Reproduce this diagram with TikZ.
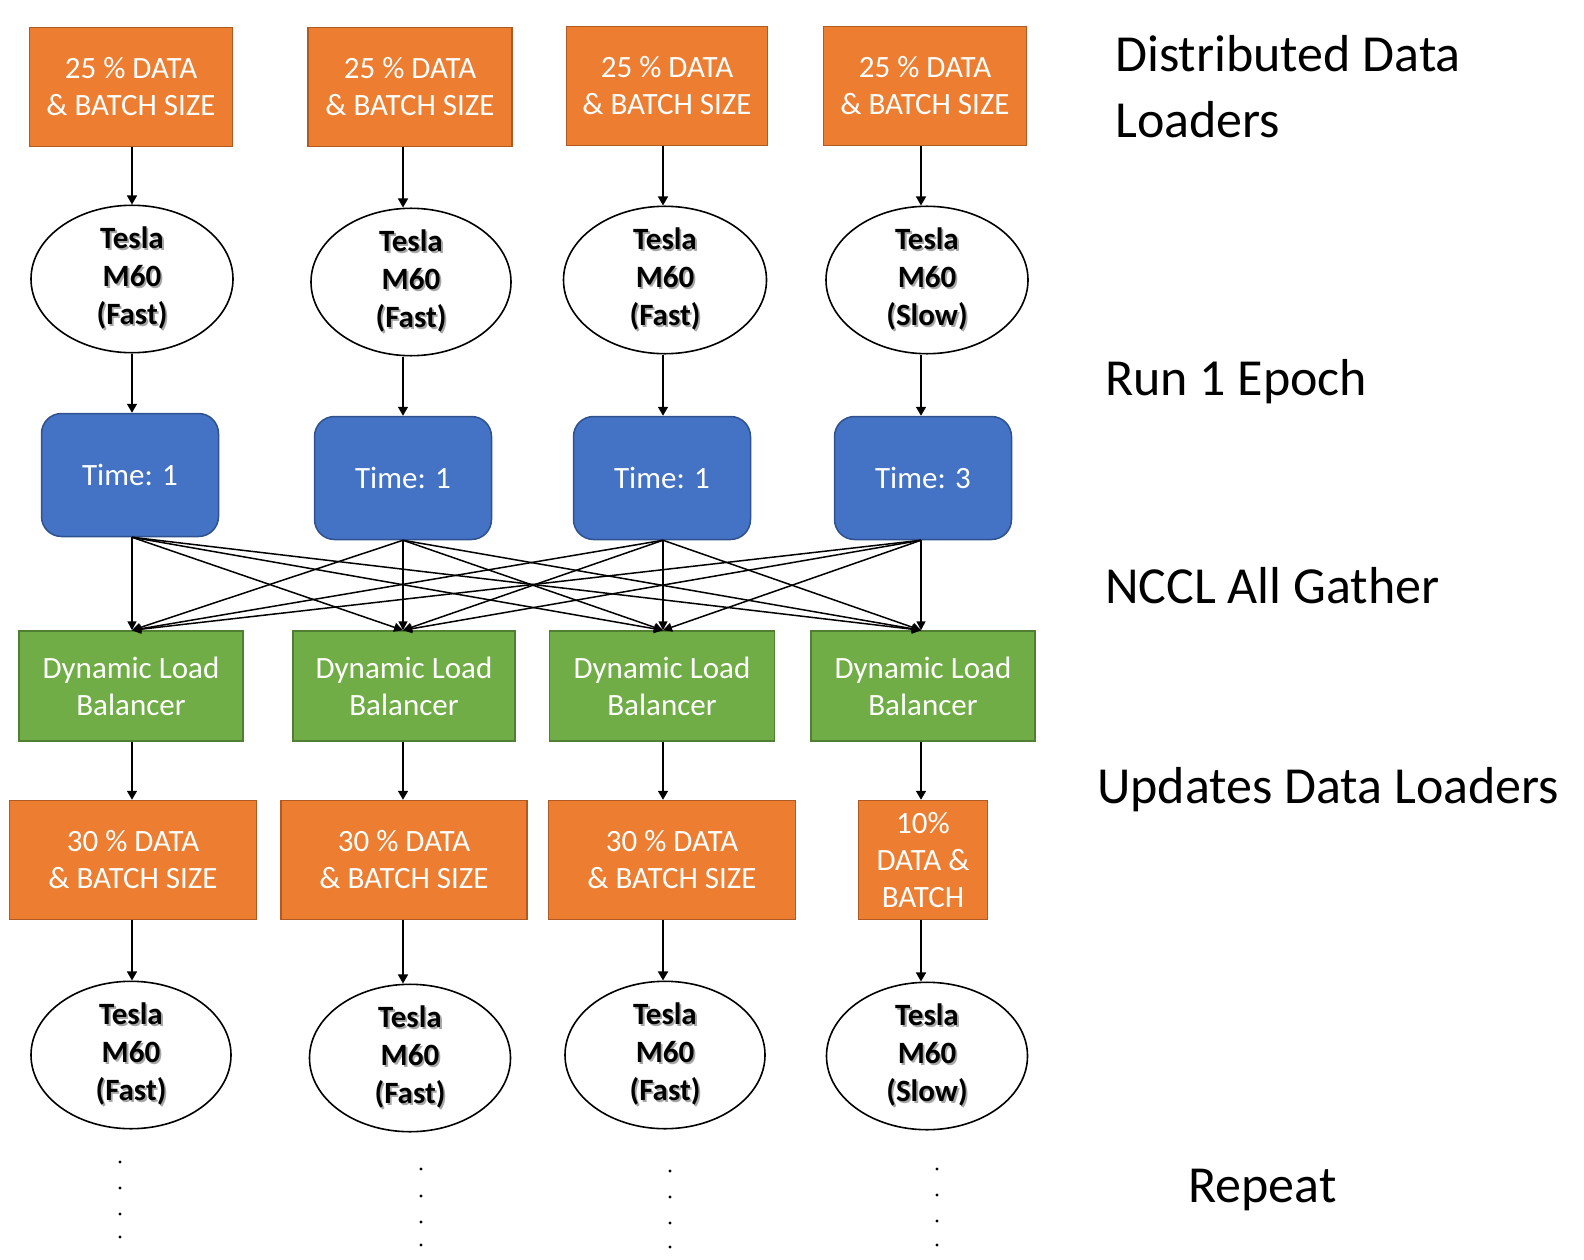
\documentclass[tikz,border=0pt]{standalone}
\usepackage{fontspec}
\setmainfont{Carlito}
\usetikzlibrary{shapes.geometric,arrows.meta}
\definecolor{orf}{HTML}{ED7D31}
\definecolor{ord}{HTML}{AE5A21}
\definecolor{blf}{HTML}{4472C4}
\definecolor{bld}{HTML}{2F528F}
\definecolor{grf}{HTML}{70AD47}
\definecolor{grd}{HTML}{507E32}
\newcommand\shd[1]{\leavevmode\rlap{\hspace{1.8pt}\raisebox{-1.8pt}{\textcolor{black!35}{#1}}}#1}
\begin{document}
\begin{tikzpicture}[x=1pt,y=-1pt,
  boxtext/.style={font=\fontsize{31}{37}\selectfont, text=white, align=center, inner sep=0pt},
  databox/.style={boxtext, rectangle, draw=ord, fill=orf, line width=1.5pt, minimum height=119pt},
  gpu/.style={ellipse, draw=black, fill=white, line width=1.6pt, minimum width=202pt, minimum height=145pt, inner sep=0pt, align=center, font=\fontsize{31}{38}\selectfont\bfseries},
  timebox/.style={boxtext, rectangle, rounded corners=20pt, draw=bld, fill=blf, line width=1.5pt, minimum width=177pt, minimum height=123pt},
  lbbox/.style={boxtext, rectangle, draw=grd, fill=grf, line width=1.5pt, minimum height=110pt},
  arr/.style={draw=black, line width=1.6pt, -{Triangle[length=9pt,width=10pt]}},
  gather/.style={draw=black, line width=1.5pt, -{Triangle[length=9pt,width=9pt]}},
  sidelabel/.style={font=\fontsize{52}{66}\selectfont, anchor=base west, align=left, inner sep=0pt}
]
\useasboundingbox (0,0) rectangle (1584,1260);

% column axes
\coordinate (c1) at (132,0);
\coordinate (c2) at (403,0);
\coordinate (c3) at (663,0);
\coordinate (c4) at (921,0);

% row 1: data loaders
\node[databox, minimum width=203pt] (a1) at (131,87) {25 \% DATA\\\& BATCH SIZE};
\node[databox, minimum width=204pt] (a2) at (410,87) {25 \% DATA\\\& BATCH SIZE};
\node[databox, minimum width=201pt] (a3) at (667,86) {25 \% DATA\\\& BATCH SIZE};
\node[databox, minimum width=203pt] (a4) at (925,86) {25 \% DATA\\\& BATCH SIZE};

% row 2: GPUs
\node[gpu] (e1) at (132,279) {\shd{Tesla}\\\shd{M60}\\\shd{(Fast)}};
\node[gpu, minimum width=200pt] (e2) at (411,282) {\shd{Tesla}\\\shd{M60}\\\shd{(Fast)}};
\node[gpu, minimum width=203pt] (e3) at (665,280) {\shd{Tesla}\\\shd{M60}\\\shd{(Fast)}};
\node[gpu] (e4) at (927,280) {\shd{Tesla}\\\shd{M60}\\\shd{(Slow)}};

% row 3: times
\node[timebox] (t1) at (130,475) {Time: 1};
\node[timebox] (t2) at (403,478) {Time: 1};
\node[timebox] (t3) at (662,478) {Time: 1};
\node[timebox] (t4) at (923,478) {Time: 3};

% row 4: balancers
\node[lbbox, minimum width=224pt] (g1) at (131,686) {Dynamic Load\\Balancer};
\node[lbbox, minimum width=222pt] (g2) at (404,686) {Dynamic Load\\Balancer};
\node[lbbox, minimum width=225pt] (g3) at (662,686) {Dynamic Load\\Balancer};
\node[lbbox, minimum width=224pt] (g4) at (923,686) {Dynamic Load\\Balancer};

% row 5: updated loaders
\node[databox, minimum width=247pt] (b1) at (133,860) {30 \% DATA\\\& BATCH SIZE};
\node[databox, minimum width=246pt] (b2) at (404,860) {30 \% DATA\\\& BATCH SIZE};
\node[databox, minimum width=247pt] (b3) at (672,860) {30 \% DATA\\\& BATCH SIZE};
\node[databox, minimum width=129pt] (b4) at (923,860) {10\%\\DATA \&\\BATCH};

% row 6: GPUs
\node[gpu, minimum width=200pt] (f1) at (131,1055) {\shd{Tesla}\\\shd{M60}\\\shd{(Fast)}};
\node[gpu, minimum width=201pt] (f2) at (410,1058) {\shd{Tesla}\\\shd{M60}\\\shd{(Fast)}};
\node[gpu, minimum width=200pt] (f3) at (665,1055) {\shd{Tesla}\\\shd{M60}\\\shd{(Fast)}};
\node[gpu, minimum width=201pt] (f4) at (927,1056) {\shd{Tesla}\\\shd{M60}\\\shd{(Slow)}};

% vertical arrows
\foreach \i in {1,2,3,4}{
  \draw[arr] (a\i.south -| c\i) -- (e\i.north -| c\i);
  \draw[arr] (e\i.south -| c\i) -- (t\i.north -| c\i);
  \draw[arr] (g\i.south -| c\i) -- (b\i.north -| c\i);
  \draw[arr] (b\i.south -| c\i) -- (f\i.north -| c\i);
}
% all gather
\foreach \i in {1,2,3,4}{
  \foreach \j in {1,2,3,4}{
    \draw[gather] (t\i.south -| c\i) -- (g\j.north -| c\j);
  }
}

% repeat dots
\foreach \x/\ya/\yb/\yc/\yd in {120/1162/1188/1214/1237, 421/1169/1196/1222/1245, 670/1171/1197/1223/1247, 937/1169/1195/1221/1245}{
  \fill (\x,\ya) circle (1.7pt);
  \fill (\x,\yb) circle (1.7pt);
  \fill (\x,\yc) circle (1.7pt);
  \fill (\x,\yd) circle (1.7pt);
}

% side labels
\node[sidelabel] (l1) at (1115,138) {Distributed Data\\Loaders};
\node[sidelabel] (l2) at (1105,395) {Run 1 Epoch};
\node[sidelabel] (l3) at (1105,603) {NCCL All Gather};
\node[sidelabel] (l4) at (1097,803) {Updates Data Loaders};
\node[sidelabel] (l5) at (1188,1202) {Repeat};
\end{tikzpicture}
\end{document}
